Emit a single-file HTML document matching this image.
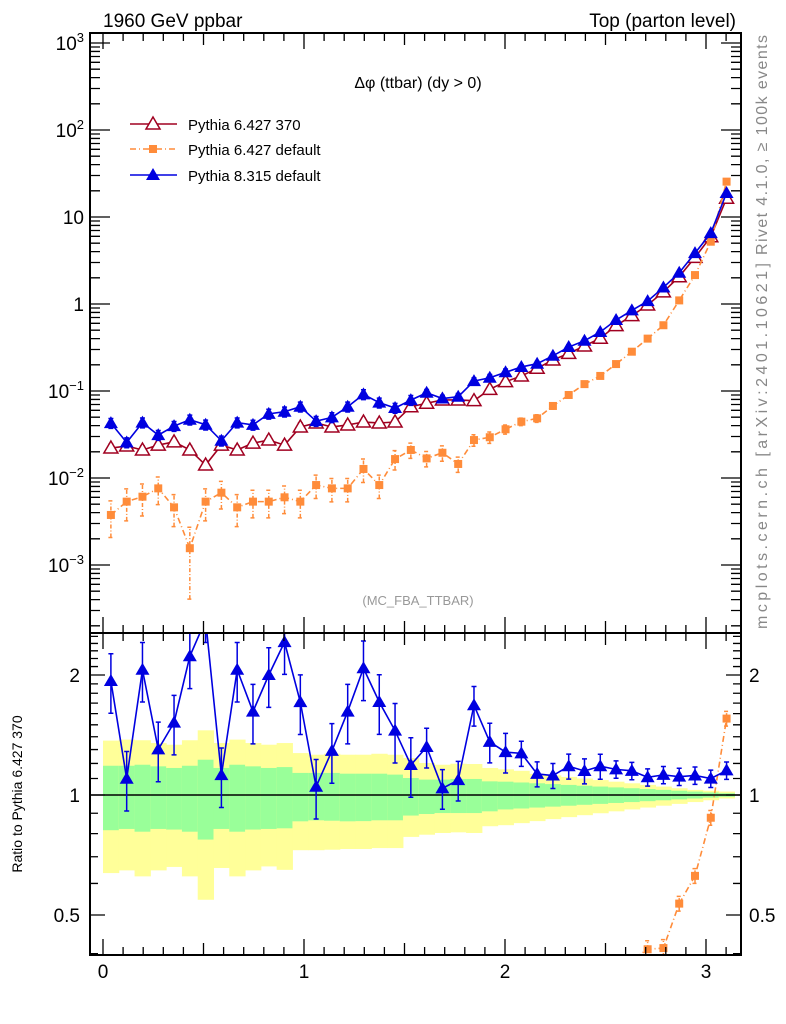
<!DOCTYPE html>
<html><head><meta charset="utf-8"><style>
html,body{margin:0;padding:0;background:#fff;width:786px;height:1024px;overflow:hidden}
svg{display:block;font-family:"Liberation Sans",sans-serif}
</style></head><body>
<svg id="chart" width="786" height="1024" viewBox="0 0 786 1024">
<text x="103" y="27" font-size="19">1960 GeV ppbar</text>
<text x="736" y="27" font-size="19" text-anchor="end">Top (parton level)</text>
<text x="418" y="88" font-size="16" text-anchor="middle">Δφ (ttbar) (dy &gt; 0)</text>
<text x="418" y="605" font-size="13" fill="#999" text-anchor="middle">(MC_FBA_TTBAR)</text>
<text transform="translate(767,145) rotate(-90)" font-size="16" fill="#888" text-anchor="middle" textLength="220" lengthAdjust="spacing">Rivet 4.1.0, ≥ 100k events</text>
<text transform="translate(767,446) rotate(-90)" font-size="16" fill="#888" text-anchor="middle" textLength="366" lengthAdjust="spacing">mcplots.cern.ch [arXiv:2401.10621]</text>
<text transform="translate(22,794) rotate(-90)" font-size="14" text-anchor="middle">Ratio to Pythia 6.427 370</text>
<g id="bands"></g><g id="marks"></g><g id="axes"></g>
<g>
<g><line x1="130" y1="124" x2="177" y2="124" stroke="#a00020" stroke-width="1.5"/><polygon points="153,117 160,129 146,129" fill="#fff" stroke="#a00020" stroke-width="1.5"/><text x="188" y="130" font-size="15">Pythia 6.427 370</text></g>
<g><line x1="130" y1="149" x2="177" y2="149" stroke="#ff8c3a" stroke-width="1.5" stroke-dasharray="6,3,1,3"/><rect x="149" y="145" width="8" height="8" fill="#ff8c3a"/><text x="188" y="155" font-size="15">Pythia 6.427 default</text></g>
<g><line x1="130" y1="175" x2="177" y2="175" stroke="#0000e0" stroke-width="1.5"/><polygon points="153,168 160,180 146,180" fill="#0000e0"/><text x="188" y="181" font-size="15">Pythia 8.315 default</text></g>
</g>
</svg>
<script>
const red=[0.0221,0.0233,0.021,0.0239,0.026,0.021,0.0141,0.0239,0.021,0.0252,0.0273,0.0239,0.0386,0.0429,0.0386,0.0407,0.044,0.0429,0.044,0.066,0.0723,0.0789,0.0789,0.0774,0.1045,0.128,0.1486,0.1824,0.227,0.271,0.329,0.404,0.564,0.734,0.975,1.38,2.06,3.43,5.93,16.4];
const blue=[0.0427,0.0256,0.0433,0.0311,0.0395,0.0468,0.041,0.0268,0.0433,0.0408,0.0546,0.0578,0.066,0.045,0.0498,0.0659,0.0915,0.0734,0.0638,0.0785,0.0954,0.082,0.086,0.13,0.142,0.164,0.189,0.206,0.254,0.32,0.378,0.477,0.654,0.844,1.08,1.55,2.29,3.84,6.52,18.9];
const orange=[0.00376,0.00535,0.0061,0.0076,0.0046,0.00156,0.00535,0.00678,0.0046,0.00535,0.00535,0.006,0.00535,0.0083,0.0076,0.0076,0.0127,0.0083,0.0165,0.021,0.0168,0.0195,0.0145,0.0273,0.0294,0.0363,0.0444,0.0485,0.0673,0.09,0.12,0.149,0.204,0.283,0.40,0.57,1.10,2.15,5.2,25.5];
const errRed=[0.11,0.11,0.11,0.11,0.11,0.11,0.11,0.11,0.11,0.11,0.11,0.11,0.11,0.11,0.11,0.11,0.11,0.11,0.11,0.11,0.07,0.07,0.07,0.07,0.07,0.07,0.04,0.04,0.04,0.04,0.04,0.04,0.03,0.03,0.03,0.03,0.03,0.03,0.03,0.03];
const errBlue=[0.13,0.13,0.13,0.13,0.13,0.13,0.13,0.13,0.13,0.13,0.13,0.13,0.13,0.13,0.13,0.13,0.13,0.13,0.13,0.13,0.09,0.09,0.09,0.09,0.09,0.09,0.06,0.06,0.06,0.06,0.06,0.06,0.04,0.04,0.04,0.04,0.04,0.04,0.04,0.04];
const errOrange=[0.45,0.4,0.4,0.35,0.4,0.74,0.4,0.35,0.4,0.35,0.35,0.35,0.35,0.3,0.3,0.3,0.3,0.3,0.25,0.2,0.2,0.2,0.2,0.15,0.15,0.12,0.1,0.1,0.08,0.08,0.06,0.06,0.05,0.05,0.04,0.04,0.03,0.03,0.03,0.03];
const yellowHi=[1.369,1.377,1.372,1.35,1.337,1.372,1.453,1.35,1.377,1.35,1.337,1.35,1.274,1.262,1.269,1.262,1.262,1.269,1.262,1.238,1.203,1.191,1.198,1.196,1.169,1.16,1.15,1.13,1.12,1.11,1.1,1.09,1.08,1.07,1.06,1.05,1.04,1.03,1.025,1.02];
const yellowLo=[0.637,0.647,0.625,0.647,0.66,0.625,0.546,0.656,0.625,0.647,0.662,0.649,0.727,0.727,0.729,0.732,0.732,0.736,0.736,0.785,0.795,0.803,0.806,0.803,0.835,0.84,0.85,0.86,0.87,0.88,0.89,0.9,0.91,0.92,0.93,0.94,0.95,0.96,0.97,0.98];
const greenHi=[1.184,1.184,1.191,1.18,1.169,1.184,1.226,1.169,1.191,1.18,1.169,1.175,1.136,1.136,1.136,1.131,1.131,1.131,1.125,1.103,1.093,1.093,1.097,1.097,1.082,1.08,1.075,1.07,1.065,1.06,1.055,1.05,1.045,1.04,1.035,1.03,1.025,1.02,1.015,1.01];
const greenLo=[0.816,0.822,0.809,0.822,0.819,0.809,0.773,0.822,0.809,0.819,0.822,0.825,0.859,0.864,0.862,0.859,0.86,0.864,0.864,0.888,0.896,0.901,0.901,0.901,0.91,0.92,0.925,0.93,0.935,0.94,0.945,0.95,0.955,0.96,0.965,0.97,0.975,0.98,0.985,0.99];
const mainTicks=[-3,-2,-1,0,1,2,3];
const ratioTickLabels=[0.5,1,2];
const xTickLabels=[0,1,2,3];

const NS="http://www.w3.org/2000/svg";
const NB=40, BW=Math.PI/40;
const xs=v=>103+v*201;
const clampY=(y,a,b)=>Math.max(a,Math.min(b,y));
const ym=v=>clampY(304-87*Math.log10(v),20,650);
const yr=v=>clampY(795-120*Math.log2(v),620,970);
function mk(tag,attrs,parent){const e=document.createElementNS(NS,tag);for(const k in attrs)e.setAttribute(k,attrs[k]);parent.appendChild(e);return e;}
const svg=document.getElementById('chart');
const defs=mk('defs',{},svg);
const c1=mk('clipPath',{id:'cm'},defs);mk('rect',{x:90,y:33,width:651,height:600},c1);
const c2=mk('clipPath',{id:'cr'},defs);mk('rect',{x:90,y:633,width:651,height:322},c2);
const bands=document.getElementById('bands');bands.setAttribute('clip-path','url(#cr)');
const marks=document.getElementById('marks');
const axes=document.getElementById('axes');
const ctr=i=>(i+0.5)*BW;

for(let i=0;i<NB;i++){
  const x0=xs(i*BW),x1=xs((i+1)*BW);
  const y=mk('rect',{x:x0,y:yr(yellowHi[i]),width:x1-x0+0.5,height:yr(yellowLo[i])-yr(yellowHi[i]),fill:'#ffff99'},bands);
  
  
  const g=mk('rect',{x:x0,y:yr(greenHi[i]),width:x1-x0+0.5,height:yr(greenLo[i])-yr(greenHi[i]),fill:'#99ff99'},bands);
  
  
}
const ref=mk('line',{x1:90,x2:741,y1:yr(1),y2:yr(1),stroke:'#000','stroke-width':1.5},bands);



function series(vals,errs,yf,color,marker,dash,clip,name,minShow){
  const g=mk('g',{'clip-path':'url(#'+clip+')'},marks);
  
  
  let pts=vals.map((v,i)=>xs(ctr(i))+','+yf(v)).join(' ');
  const pl=mk('polyline',{points:pts,fill:'none',stroke:color,'stroke-width':1.6},g);
  if(dash)pl.setAttribute('stroke-dasharray',dash);
  vals.forEach((v,i)=>{
    if(minShow && v<minShow) return;
    const x=xs(ctr(i)),y=yf(v);
    const lo=Math.max(v-v*errs[i],v*0.01),hi=v+v*errs[i];
    const eb=mk('path',{d:`M${x},${yf(lo)}V${yf(hi)}M${x-2.5},${yf(lo)}h5M${x-2.5},${yf(hi)}h5`,stroke:color,'stroke-width':1.5,fill:'none'},g);
    if(dash)eb.setAttribute('stroke-dasharray','4,2,1,2');
    let m;
    if(marker==='tri-open')m=mk('polygon',{points:`${x},${y-7} ${x+7},${y+5} ${x-7},${y+5}`,fill:'#fff',stroke:color,'stroke-width':1.5},g);
    else if(marker==='tri')m=mk('polygon',{points:`${x},${y-7} ${x+7},${y+5} ${x-7},${y+5}`,fill:color},g);
    else m=mk('rect',{x:x-4,y:y-4,width:8,height:8,fill:color},g);
    
    
  });
}
series(red,errRed,ym,'#a00020','tri-open',null,'cm','series-pythia6-370');
series(orange,errOrange,ym,'#ff8c3a','sq','6,3,1,3','cm','series-pythia6-default');
series(blue,errBlue,ym,'#0000e0','tri',null,'cm','series-pythia8-default');
const rb=blue.map((v,i)=>v/red[i]);
const ro=orange.map((v,i)=>v/red[i]);
const erb=errBlue.map((e,i)=>Math.sqrt(e*e+errRed[i]*errRed[i]));
const ero=errOrange.map((e,i)=>Math.sqrt(e*e+errRed[i]*errRed[i]));
series(ro,ero,yr,'#ff8c3a','sq','6,3,1,3','cr','ratio-pythia6-default',0.39);
series(rb,erb,yr,'#0000e0','tri',null,'cr','ratio-pythia8-default');

const f1=mk('rect',{x:90,y:33,width:651,height:600,fill:'none',stroke:'#000','stroke-width':2},axes);


const f2=mk('rect',{x:90,y:633,width:651,height:322,fill:'none',stroke:'#000','stroke-width':2},axes);


let tp='';
for(let d=-4;d<=3;d++){for(let k=1;k<10;k++){const y=304-87*Math.log10(k*Math.pow(10,d));if(y<33||y>633)continue;const L=k===1?20:10;tp+=`M90,${y}h${L}M741,${y}h${-L}`;}}
for(let k=4;k<=25;k++){const v=k/10;const y=795-120*Math.log2(v);if(y<633||y>955)continue;const L=(k===5||k===10||k===20)?15:8;tp+=`M90,${y}h${L}M741,${y}h${-L}`;}
for(let k=0;k<=31;k++){const x=xs(k/10);const L=k%5===0?(k%10===0?16:12):8;tp+=`M${x},955v${-L}M${x},633v${L}M${x},633v${-L}M${x},33v${L}`;}
const tk=mk('path',{d:tp,stroke:'#000','stroke-width':1.3,fill:'none'},axes);


mainTicks.forEach(p=>{
  const t=mk('text',{x:84,y:304-87*p+7,'font-size':19,'text-anchor':'end'},axes);
  if(p===0||p===1){t.textContent=String(Math.pow(10,p));}
  else{t.textContent='10';const s=mk('tspan',{'font-size':13,dy:-8},t);s.textContent=p<0?'−'+(-p):String(p);}
  
  
});
ratioTickLabels.forEach(v=>{
  [[80,'end'],[749,'start']].forEach(([x,a])=>{
    const t=mk('text',{x:x,y:795-120*Math.log2(v)+7,'font-size':19,'text-anchor':a},axes);
    t.textContent=String(v);
    
    
  });
});
xTickLabels.forEach(v=>{
  const t=mk('text',{x:xs(v),y:978,'font-size':19,'text-anchor':'middle'},axes);
  t.textContent=String(v);
  
  
});
</script>
</body></html>
